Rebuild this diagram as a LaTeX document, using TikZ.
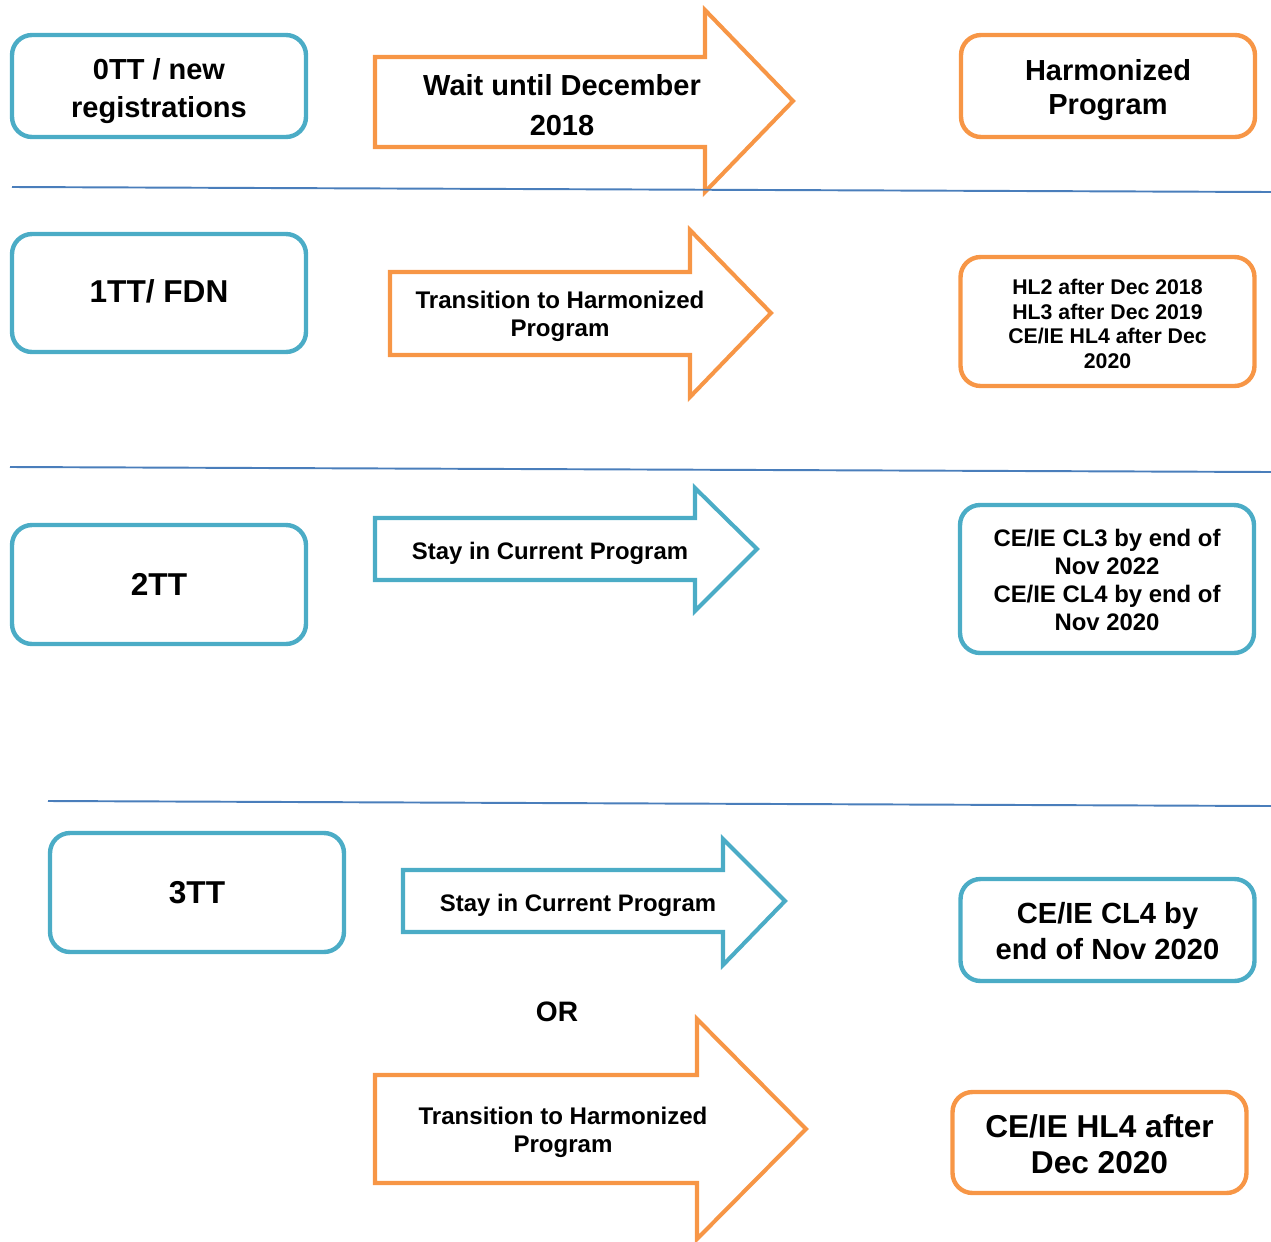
\documentclass[tikz,border=0pt]{standalone}
\usepackage{fontspec}
\setmainfont{Liberation Sans}
\usepackage{tikz}
\usetikzlibrary{positioning}
\definecolor{boxblue}{HTML}{4BACC6}
\definecolor{boxorange}{HTML}{F79646}
\definecolor{rulecol}{HTML}{4A7EBB}
\tikzset{
  stage/.style={draw=boxblue, line width=2.5pt, rounded corners=0.4cm, align=center,
    minimum width=5.88cm, inner sep=0pt},
  outblue/.style={stage},
  outorange/.style={stage, draw=boxorange},
  blockor/.style={draw=boxorange, line width=2.3pt, line join=miter},
  blockbl/.style={draw=boxblue, line width=2.3pt, line join=miter},
  lbl/.style={align=center, inner sep=0pt},
  sep/.style={draw=rulecol, line width=1.1pt}
}
\newcommand{\fs}[2]{\fontsize{#1}{#2}\selectfont\bfseries}

\begin{document}
\begin{tikzpicture}[x=0.02cm, y=-0.02cm]
\useasboundingbox (0,0) rectangle (1271,1241);

% row 0
\node[stage, minimum height=2.04cm, font=\fs{16.5}{21.6}] (zero) at (159,86) {};
\node[lbl, font=\fs{16.5}{21.6}] (zerolbl) at (159,91) {0TT / new\\registrations};
\draw[blockor] (375,57) -- (705,57) -- (705,10) -- (793,101) -- (705,192) -- (705,147) -- (375,147) -- cycle;
\node[lbl, font=\fs{16.5}{22.8}] (wait) at (562,105) {Wait until December\\2018};
\node[outorange, minimum height=2.04cm] (harm) at (1108,86) {};
\node[lbl, font=\fs{16.5}{19.4}] (harmlbl) at (1108,90) {Harmonized\\Program};
\draw[sep] (12,187) -- (1271,192);

% row 1
\node[stage, minimum height=2.36cm] (one) at (159,293) {};
\node[lbl, font=\fs{18}{22}] (onelbl) at (159,291) {1TT/ FDN};
\draw[blockor] (390,272) -- (690,272) -- (690,230) -- (771,313) -- (690,397) -- (690,355) -- (390,355) -- cycle;
\node[lbl, font=\fs{13.7}{16}] (transa) at (560,316) {Transition to Harmonized\\Program};
\node[outorange, minimum height=2.58cm] (hlsteps) at (1107.5,321.5) {};
\node[lbl, font=\fs{12.1}{14}] (hlstepslbl) at (1107.5,324)
  {HL2 after Dec 2018\\HL3 after Dec 2019\\CE/IE HL4 after Dec\\2020};
\draw[sep] (10,467) -- (1271,472);

% row 2
\node[stage, minimum height=2.38cm, font=\fs{18}{22}] (two) at (159,584.5) {2TT};
\draw[blockbl] (375,518) -- (695,518) -- (695,488) -- (757,549) -- (695,611) -- (695,580) -- (375,580) -- cycle;
\node[lbl, font=\fs{13.6}{16}] (staya) at (550,553) {Stay in Current Program};
\node[outblue, minimum height=2.96cm] (clsteps) at (1107,579) {};
\node[lbl, font=\fs{13.6}{16}] (clstepslbl) at (1107,580)
  {CE/IE CL3 by end of\\Nov 2022\\CE/IE CL4 by end of\\Nov 2020};
\draw[sep] (48,801) -- (1271,806);

% row 3
\node[stage, minimum height=2.38cm, font=\fs{18}{22}] (three) at (197,892.5) {3TT};
\draw[blockbl] (403,870) -- (723,870) -- (723,839) -- (785,901) -- (723,965) -- (723,932) -- (403,932) -- cycle;
\node[lbl, font=\fs{13.6}{16}] (stayb) at (578,905) {Stay in Current Program};
\node[outblue, minimum height=2.04cm] (clfour) at (1107.5,930) {};
\node[lbl, font=\fs{16.6}{20}] (clfourlbl) at (1107.5,931) {CE/IE CL4 by\\end of Nov 2020};
\node[lbl, font=\fs{16}{19}] (or) at (557,1012) {OR};
\draw[blockor] (375,1075) -- (697,1075) -- (697,1019) -- (806,1129) -- (697,1239) -- (697,1183) -- (375,1183) -- cycle;
\node[lbl, font=\fs{13.7}{16}] (transb) at (563,1132) {Transition to Harmonized\\Program};
\node[outorange, minimum height=2.02cm] (hlfour) at (1099.5,1142.5) {};
\node[lbl, font=\fs{18}{20.5}] (hlfourlbl) at (1099.5,1144.5) {CE/IE HL4 after\\Dec 2020};
%\draw[help lines] (0,0) grid (1271,1241);
\end{tikzpicture}
\end{document}
